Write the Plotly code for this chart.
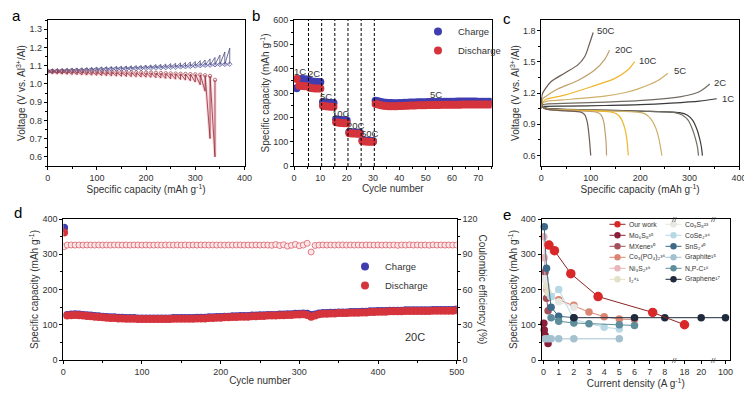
import plotly.graph_objects as go

FONT = "Liberation Sans, Arial, sans-serif"
TXT = "#333333"
OFF = 8                 # default page margin of the html body
W, H = 752 - OFF, 394 - OFF

# ---------------- panel a : GITT ----------------
a_chg_cap = [0, 10, 20, 30, 40, 50, 60, 70, 80, 90, 100, 110, 120, 130, 140, 150, 160, 170, 180, 190,
             200, 210, 220, 230, 240, 250, 260, 270, 280, 290, 300, 310, 320, 330, 340, 350, 360, 370]
a_chg_rest = [1.067, 1.068, 1.069, 1.070, 1.071, 1.072, 1.072, 1.073, 1.074, 1.075,
              1.076, 1.077, 1.078, 1.079, 1.080, 1.080, 1.081, 1.082, 1.083, 1.084,
              1.085, 1.086, 1.087, 1.088, 1.089, 1.090, 1.091, 1.093, 1.094, 1.096,
              1.098, 1.100, 1.102, 1.103, 1.105, 1.106, 1.107, 1.108]
a_chg_pulse = [1.082, 1.083, 1.084, 1.085, 1.086, 1.087, 1.088, 1.089, 1.090,
               1.092, 1.093, 1.094, 1.095, 1.096, 1.097, 1.098, 1.099, 1.100, 1.101,
               1.103, 1.104, 1.106, 1.107, 1.109, 1.111, 1.113, 1.115, 1.117, 1.120,
               1.123, 1.127, 1.131, 1.137, 1.145, 1.158, 1.175, 1.196]
a_dis_cap = [0, 10, 20, 30, 40, 50, 60, 70, 80, 90, 100, 110, 120, 130, 140, 150, 160, 170, 180, 190,
             200, 210, 220, 230, 240, 250, 260, 270, 280, 290, 300, 310, 320, 330, 340]
a_dis_rest = [1.072, 1.071, 1.070, 1.070, 1.069, 1.069, 1.068, 1.068, 1.067, 1.067,
              1.066, 1.066, 1.065, 1.065, 1.064, 1.064, 1.063, 1.063, 1.062, 1.062,
              1.061, 1.061, 1.060, 1.059, 1.058, 1.057, 1.056, 1.055, 1.054, 1.053,
              1.052, 1.050, 1.047, 1.043, 1.022]
a_dis_pulse = [1.056, 1.055, 1.054, 1.053, 1.052, 1.051, 1.050, 1.049, 1.048,
               1.047, 1.046, 1.045, 1.044, 1.043, 1.042, 1.041, 1.040, 1.039, 1.038,
               1.037, 1.036, 1.034, 1.032, 1.030, 1.028, 1.026, 1.024, 1.021, 1.017,
               1.010, 0.995, 0.960, 0.700, 0.600]

# ---------------- panel b : rate capability ----------------
b_cycles = list(range(1, 76))
b_charge = [320, 356, 358, 357, 355,
            350, 347, 346, 345, 345,
            263, 261, 260, 259, 259,
            192, 190, 189, 188, 187,
            140, 139, 138, 138, 137,
            106, 105, 104, 104, 103,
            268, 266, 263, 261, 260, 259, 259, 258, 258, 259,
            259, 260, 260, 261, 261, 261, 262, 262, 262, 262,
            263, 263, 263, 263, 263, 264, 264, 264, 264, 264,
            264, 265, 265, 265, 265, 265, 265, 265, 265, 264,
            264, 264, 264, 264, 264]
b_discharge = [358, 330, 329, 328, 328,
               322, 320, 319, 319, 318,
               248, 246, 245, 244, 244,
               180, 178, 177, 176, 176,
               135, 134, 134, 133, 133,
               102, 101, 100, 100, 100,
               255, 253, 250, 248, 247, 246, 246, 246, 246, 247,
               247, 248, 248, 249, 249, 249, 250, 250, 250, 250,
               251, 251, 251, 251, 251, 252, 252, 252, 252, 252,
               252, 252, 252, 253, 253, 253, 253, 253, 253, 253,
               253, 253, 253, 253, 253]
b_bounds = [5.5, 10.5, 15.5, 20.5, 25.5, 30.5]
b_rate_text = ["1C", "2C", "5C", "10C", "20C", "50C", "5C"]
b_rate_x = [2.3, 7.6, 12.2, 17.8, 23.6, 28.9, 54]
b_rate_y = [390, 380, 287, 216, 168, 133, 294]

# ---------------- panel c : charge/discharge profiles ----------------
c_rates = ["1C", "2C", "5C", "10C", "20C", "50C"]
c_chg_cap = [[0, 2, 10, 50, 128, 200, 263, 320, 355],
             [0, 2, 10, 61, 130, 196, 250, 283, 310, 324, 341],
             [0, 2, 10, 61, 128, 170, 196, 236, 256],
             [0, 2, 10, 47, 101, 149, 175, 189],
             [0, 2, 10, 34, 74, 108, 128, 138],
             [0, 2, 8, 20, 47, 74, 88, 98, 105]]
c_chg_v = [[1.05, 1.07, 1.072, 1.075, 1.080, 1.088, 1.103, 1.122, 1.145],
           [1.06, 1.085, 1.093, 1.102, 1.113, 1.127, 1.146, 1.166, 1.195, 1.225, 1.287],
           [1.07, 1.10, 1.12, 1.14, 1.17, 1.205, 1.24, 1.32, 1.39],
           [1.08, 1.11, 1.14, 1.18, 1.26, 1.34, 1.42, 1.50],
           [1.09, 1.14, 1.17, 1.24, 1.32, 1.42, 1.52, 1.61],
           [1.10, 1.19, 1.24, 1.31, 1.39, 1.47, 1.55, 1.68, 1.78]]
c_dis_cap = [[0, 3, 10, 100, 200, 280, 295, 306, 315, 321, 324, 326],
             [0, 3, 10, 100, 200, 270, 285, 297, 306, 312, 316, 318],
             [0, 3, 10, 100, 195, 210, 222, 232, 238, 244],
             [0, 3, 10, 80, 140, 152, 162, 169, 173, 176],
             [0, 3, 10, 60, 110, 120, 126, 129, 131, 132],
             [0, 3, 10, 50, 80, 88, 93, 96, 98, 100]]
c_dis_v = [[1.12, 1.07, 1.055, 1.038, 1.027, 1.012, 0.99, 0.94, 0.85, 0.75, 0.68, 0.60],
           [1.12, 1.07, 1.052, 1.036, 1.025, 1.012, 0.99, 0.94, 0.85, 0.76, 0.68, 0.60],
           [1.13, 1.065, 1.048, 1.033, 1.017, 1.0, 0.95, 0.86, 0.76, 0.60],
           [1.14, 1.065, 1.047, 1.032, 1.018, 1.0, 0.95, 0.86, 0.76, 0.60],
           [1.15, 1.065, 1.046, 1.030, 1.018, 0.995, 0.93, 0.83, 0.73, 0.60],
           [1.16, 1.065, 1.045, 1.028, 1.016, 0.99, 0.92, 0.82, 0.72, 0.60]]
c_label_x = [361, 345, 265, 194, 145, 108]
c_label_y = [1.147, 1.30, 1.413, 1.509, 1.618, 1.797]
c_colors = ["#3b3b3b", "#716c62", "#cdb06a", "#efb52c", "#bfa06a", "#6d5a52"]

# ---------------- panel d : long cycling at 20C ----------------
d_cycles = [1] + list(range(5, 501, 5))
d_charge = [375,
            128, 129, 130, 129, 128, 127, 126, 125, 124, 123,
            122, 121, 121, 120, 120, 119, 119, 119, 118, 118,
            118, 118, 118, 118, 118, 118, 118, 119, 119, 119,
            119, 119, 119, 120, 120, 120, 121, 121, 122, 122,
            123, 123, 124, 124, 125, 125, 125, 126, 126, 127,
            127, 128, 128, 128, 129, 129, 130, 130, 131, 131,
            132, 131, 128, 129, 132, 133, 133, 134, 134, 135,
            135, 135, 136, 136, 136, 137, 137, 138, 138, 139,
            139, 139, 140, 140, 140, 140, 141, 141, 141, 141,
            141, 141, 141, 142, 142, 142, 142, 142, 142, 143]
d_discharge = [362,
               126, 127, 128, 127, 126, 125, 124, 123, 122, 121,
               120, 119, 119, 118, 118, 117, 117, 117, 116, 116,
               116, 116, 116, 116, 116, 116, 116, 117, 117, 117,
               117, 117, 117, 118, 118, 118, 119, 119, 120, 120,
               121, 121, 122, 122, 123, 123, 123, 124, 124, 125,
               125, 126, 126, 126, 127, 127, 128, 128, 129, 129,
               130, 128, 123, 126, 130, 131, 131, 132, 132, 133,
               133, 133, 134, 134, 134, 135, 135, 136, 136, 137,
               137, 137, 138, 138, 138, 138, 139, 139, 139, 139,
               139, 139, 139, 140, 140, 140, 140, 140, 140, 141]
d_ce = [96.5,
        97.8, 97.9, 97.8, 97.9, 97.8, 97.9, 97.9, 97.8, 97.9, 97.8,
        97.9, 97.8, 97.9, 97.9, 97.8, 97.9, 97.8, 97.9, 97.9, 97.8,
        97.9, 97.8, 97.8, 97.9, 97.8, 97.9, 97.9, 97.8, 97.9, 97.8,
        97.9, 97.8, 97.9, 97.8, 97.9, 97.9, 97.8, 97.9, 97.8, 97.9,
        97.8, 97.9, 97.8, 97.9, 97.9, 97.8, 97.9, 97.8, 97.9, 97.8,
        97.9, 97.8, 97.6, 98.2, 97.4, 98.1, 96.9, 97.6, 98.4, 97.2,
        97.8, 99.3, 91.9, 97.5, 97.8, 97.9, 97.8, 97.9, 97.8, 97.9,
        97.9, 97.8, 97.9, 97.8, 97.9, 97.8, 97.9, 97.9, 97.8, 97.9,
        97.8, 97.9, 97.8, 97.9, 97.6, 97.9, 97.8, 98.0, 97.8, 97.9,
        97.8, 97.9, 97.7, 98.0, 97.8, 97.9, 97.8, 97.9, 97.8, 97.9]

# ---------------- panel e : comparison ----------------
e_names = ["Our work", "Mo₆S₈³⁵", "MXene³⁰", "Co₃(PO₄)₂³⁶", "Ni₃S₂³⁹", "I₂⁴¹",
           "Co₉S₈²³", "CoSe₂³⁴", "SnS₂⁴⁰", "Graphite¹⁵", "N,P-C¹⁶", "Graphene¹⁷"]
e_x = [[0.36, 0.72, 1.8, 3.6, 7.2, 18],
       [0.02, 0.05, 0.1, 0.3],
       [0.1, 0.2, 0.3],
       [0.5, 1, 2, 3, 4, 5, 6],
       [0.02, 0.05, 0.1, 0.2],
       [0.2, 0.3, 0.5],
       [0.1, 0.5, 1, 2],
       [0.5, 1, 2, 4, 5],
       [0.05, 0.2, 0.5, 1, 2],
       [0.1, 0.3, 0.5, 1, 2, 5],
       [0.5, 1, 2, 3, 5, 6],
       [2, 6, 8, 20, 100]]
e_y = [[326, 310, 245, 180, 135, 100],
       [104, 85, 70, 47],
       [250, 175, 140],
       [180, 171, 155, 136, 123, 116, 115],
       [350, 290, 230, 200],
       [210, 190, 180],
       [230, 180, 165, 150],
       [180, 200, 115, 93, 88],
       [378, 260, 150, 124, 120],
       [60, 60, 60, 60, 60, 60],
       [120, 110, 105, 103, 100, 98],
       [120, 120, 120, 120, 120]]
e_colors = ["#d8282a", "#8a1f3c", "#a3525c", "#d98572", "#e9b5b8", "#e3e0c6",
            "#e6e6e2", "#b7d9e6", "#3d6a88", "#a4c1d0", "#5e8d9b", "#1f2b3c"]
e_tickvals_real = [0, 1, 2, 3, 4, 5, 6, 7, 8, 18, 20, 100]


def brk(v):
    """broken x axis of panel e: 0-8 | 18-20 | 100"""
    if v <= 8.6:
        return v
    if v <= 30:
        return 9.3 + (v - 18) * 0.55
    return 12.0 + (v - 100) * 0.05


def gitt_path(cap, rest, pulse):
    xs, ys = [cap[0]], [rest[0]]
    for i in range(1, len(cap)):
        xs += [cap[i], cap[i]]
        ys += [pulse[i - 1], rest[i]]
    return xs, ys


def px_x(p):
    return (p - OFF) / W


def px_y(p):
    return 1 - (p - OFF) / H


fig = go.Figure()

# ---- a
cx, cy = gitt_path(a_chg_cap, a_chg_rest, a_chg_pulse)
dx, dy = gitt_path(a_dis_cap, a_dis_rest, a_dis_pulse)
fig.add_trace(go.Scatter(x=a_chg_cap, y=a_chg_rest, mode="lines", line=dict(color="rgba(130,130,230,0.30)", width=3),
                         xaxis="x", yaxis="y", showlegend=False, hoverinfo="skip"))
fig.add_trace(go.Scatter(x=dx, y=dy, mode="lines", line=dict(color="rgba(240,120,135,0.30)", width=3),
                         xaxis="x", yaxis="y", showlegend=False, hoverinfo="skip"))
fig.add_trace(go.Scatter(x=cx, y=cy, mode="lines", line=dict(color="#4a4a80", width=0.8),
                         xaxis="x", yaxis="y", showlegend=False))
fig.add_trace(go.Scatter(x=dx, y=dy, mode="lines", line=dict(color="#8e2a36", width=0.8),
                         xaxis="x", yaxis="y", showlegend=False))
fig.add_trace(go.Scatter(x=a_chg_cap, y=a_chg_rest, mode="markers",
                         marker=dict(symbol="diamond-open", size=3.5, color="#4a4a80", line=dict(width=0.7)),
                         xaxis="x", yaxis="y", showlegend=False))
fig.add_trace(go.Scatter(x=a_dis_cap, y=a_dis_rest, mode="markers",
                         marker=dict(symbol="circle-open", size=3.5, color="#a0404a", line=dict(width=0.7)),
                         xaxis="x", yaxis="y", showlegend=False))

# ---- b
fig.add_trace(go.Scatter(x=b_cycles, y=b_charge, mode="markers", name="Charge",
                         marker=dict(size=8, color="#3f3db0"), xaxis="x2", yaxis="y2", legend="legend"))
fig.add_trace(go.Scatter(x=b_cycles, y=b_discharge, mode="markers", name="Discharge",
                         marker=dict(size=8, color="#d5343c"), xaxis="x2", yaxis="y2", legend="legend"))

# ---- c
for i in range(len(c_rates)):
    fig.add_trace(go.Scatter(x=c_chg_cap[i], y=c_chg_v[i], mode="lines",
                             line=dict(color=c_colors[i], width=1.2, shape="spline", smoothing=0.8),
                             xaxis="x3", yaxis="y3", showlegend=False))
    fig.add_trace(go.Scatter(x=c_dis_cap[i], y=c_dis_v[i], mode="lines",
                             line=dict(color=c_colors[i], width=1.2, shape="spline", smoothing=0.8),
                             xaxis="x3", yaxis="y3", showlegend=False))

# ---- d
fig.add_trace(go.Scatter(x=d_cycles, y=d_ce, mode="markers",
                         marker=dict(symbol="circle", size=6, color="#fde6e8", line=dict(color="#d9606a", width=0.8)),
                         xaxis="x4", yaxis="y5", showlegend=False))
fig.add_trace(go.Scatter(x=d_cycles, y=d_charge, mode="markers", name="Charge",
                         marker=dict(size=8, color="#3f3db0"), xaxis="x4", yaxis="y4", legend="legend2"))
fig.add_trace(go.Scatter(x=d_cycles, y=d_discharge, mode="markers", name="Discharge",
                         marker=dict(size=8, color="#d5343c"), xaxis="x4", yaxis="y4", legend="legend2"))

# ---- e
order = list(range(1, len(e_names))) + [0]
for i in order:
    fig.add_trace(go.Scatter(x=[brk(v) for v in e_x[i]], y=e_y[i], mode="lines+markers",
                             line=dict(color=("#8b2323" if i == 0 else e_colors[i]), width=1),
                             marker=dict(size=(9.5 if i == 0 else 7.5), color=e_colors[i]),
                             xaxis="x5", yaxis="y6", showlegend=False, cliponaxis=False))


def axis(domain, anchor, **kw):
    d = dict(domain=domain, anchor=anchor, showline=True, linecolor="black", linewidth=1, mirror=True,
             ticks="outside", ticklen=3, tickwidth=1, tickcolor="black", automargin=False,
             tickfont=dict(size=9, color=TXT, family=FONT), showgrid=False, zeroline=False)
    d.update(kw)
    return d


def ttl(t, standoff=1):
    return dict(text=t, font=dict(size=10, color=TXT, family=FONT), standoff=standoff)


minor = lambda dt: dict(ticks="outside", ticklen=2, dtick=dt, tickcolor="black")

top_dom = [px_y(166), px_y(20)]
bot_dom = [px_y(360), px_y(219)]
cap_title = "Specific capacity (mAh g<sup>-1</sup>)"
volt_title = "Voltage (V vs. Al<sup>3+</sup>/Al)"

layout = dict(
    width=W, height=H, margin=dict(l=0, r=0, t=0, b=0, autoexpand=False), paper_bgcolor="white",
    plot_bgcolor="white", font=dict(family=FONT, color=TXT),
    xaxis=axis([px_x(47.7), px_x(244.5)], "y", range=[0, 400], dtick=100, minor=minor(50), title=ttl(cap_title)),
    yaxis=axis(top_dom, "x", range=[0.55, 1.35], tick0=0.6, dtick=0.1, tickformat=".1f", minor=minor(0.05),
               title=ttl(volt_title)),
    xaxis2=axis([px_x(294), px_x(491.5)], "y2", range=[0, 75], dtick=10, minor=minor(5), title=ttl("Cycle number")),
    yaxis2=axis(top_dom, "x2", range=[0, 600], dtick=100, minor=minor(50), title=ttl(cap_title)),
    xaxis3=axis([px_x(541.3), px_x(739)], "y3", range=[0, 400], dtick=100, minor=minor(50), title=ttl(cap_title)),
    yaxis3=axis(top_dom, "x3", range=[0.5, 1.9], tick0=0.6, dtick=0.3, tickformat=".1f", minor=minor(0.15),
                title=ttl(volt_title)),
    xaxis4=axis([px_x(63.3), px_x(456.7)], "y4", range=[0, 500], dtick=100, minor=minor(50), title=ttl("Cycle number")),
    yaxis4=axis(bot_dom, "x4", range=[0, 400], dtick=100, minor=minor(50), title=ttl(cap_title), mirror=False),
    yaxis5=axis(bot_dom, "x4", range=[0, 120], dtick=30, minor=minor(15), overlaying="y4", side="right", mirror=False),
    xaxis5=axis([px_x(541.7), px_x(730)], "y6", range=[-0.12, 12.3], tickmode="array",
                tickvals=[brk(v) for v in e_tickvals_real], ticktext=[str(v) for v in e_tickvals_real],
                title=ttl("Current density (A g<sup>-1</sup>)")),
    yaxis6=axis(bot_dom, "x5", range=[0, 400], dtick=100, minor=minor(50), title=ttl(cap_title)),
    legend=dict(x=px_x(418), y=px_y(17), xanchor="left", yanchor="top", bgcolor="rgba(0,0,0,0)",
                font=dict(size=9.5, color=TXT), tracegroupgap=0),
    legend2=dict(x=px_x(345), y=px_y(252), xanchor="left", yanchor="top", bgcolor="rgba(0,0,0,0)",
                 font=dict(size=9.5, color=TXT), tracegroupgap=0),
)
fig.update_layout(**layout)

ann = []
shapes = []
# panel letters
for t, x, y in [("a", 16, 16), ("b", 256, 16), ("c", 507, 19), ("d", 18, 212), ("e", 507, 214)]:
    ann.append(dict(text=t, x=px_x(x), y=px_y(y), xref="paper", yref="paper", showarrow=False,
                    xanchor="center", yanchor="middle", font=dict(size=15, color="black", family=FONT)))
# b rate labels & boundaries
for t, x, y in zip(b_rate_text, b_rate_x, b_rate_y):
    ann.append(dict(text=t, x=x, y=y, xref="x2", yref="y2", showarrow=False, font=dict(size=9.5, color=TXT)))
for xb in b_bounds:
    shapes.append(dict(type="line", xref="x2", yref="y2 domain", x0=xb, x1=xb, y0=0, y1=1,
                       line=dict(color="black", width=1, dash="3px,2px")))
# c rate labels
for t, x, y in zip(c_rates, c_label_x, c_label_y):
    ann.append(dict(text=t, x=x, y=y, xref="x3", yref="y3", xanchor="left", showarrow=False,
                    font=dict(size=9.5, color=TXT)))
# d
ann.append(dict(text="20C", x=447, y=66, xref="x4", yref="y4", showarrow=False, font=dict(size=11, color=TXT)))
ann.append(dict(text="Coulombic efficiency (%)", x=px_x(482), y=px_y(289.5), xref="paper", yref="paper",
                showarrow=False, textangle=90, xanchor="center", yanchor="middle", font=dict(size=10, color=TXT)))
# e break marks
for xb in [8.62, 11.2]:
    for yy in [px_y(219), px_y(360)]:
        ann.append(dict(text="//", x=xb, y=yy, xref="x5", yref="paper", showarrow=False,
                        xanchor="center", yanchor="middle", font=dict(size=8, color=TXT)))
# e legend (two columns)
for i, name in enumerate(e_names):
    col, row = divmod(i, 6)
    xc = [617.5, 673.5][col]
    yc = 224.3 + row * 11
    shapes.append(dict(type="line", xref="paper", yref="paper", x0=px_x(xc - 8), x1=px_x(xc + 8),
                       y0=px_y(yc), y1=px_y(yc), line=dict(color=("#8b2323" if i == 0 else e_colors[i]), width=1)))
    r = 3.2
    shapes.append(dict(type="circle", xref="paper", yref="paper", x0=px_x(xc - r), x1=px_x(xc + r),
                       y0=px_y(yc + r), y1=px_y(yc - r), fillcolor=e_colors[i], line=dict(width=0)))
    ann.append(dict(text=name, x=px_x(xc + 9), y=px_y(yc), xref="paper", yref="paper", xanchor="left",
                    yanchor="middle", showarrow=False, font=dict(size=6.8, color=TXT)))

fig.update_layout(annotations=ann, shapes=shapes)
fig.write_html("out.html")
